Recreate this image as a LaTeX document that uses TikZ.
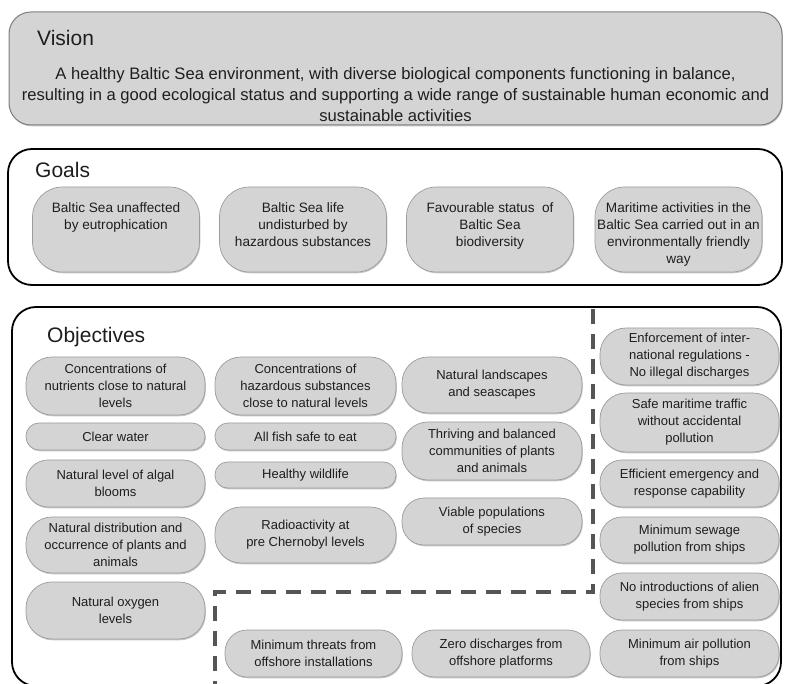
\documentclass[tikz,border=0pt]{standalone}
\usepackage{fontspec}
\setmainfont{Liberation Sans}
\usetikzlibrary{shadows}
\definecolor{boxgray}{HTML}{D4D4D4}
\definecolor{edgegray}{HTML}{9C9C9C}
\definecolor{txt}{HTML}{1E1E1E}
\definecolor{dashgray}{HTML}{555555}
\tikzset{
  pill/.style={draw=edgegray, line width=0.7pt, fill=boxgray, text=txt, align=center, inner sep=2pt,
    drop shadow={shadow xshift=0.8pt, shadow yshift=-1.3pt, fill=black, opacity=0.22}},
  objbox/.style={pill, font=\fontsize{13}{17}\selectfont},
  goalbox/.style={pill, inner sep=0pt, font=\fontsize{13.6}{17}\selectfont, minimum width=167pt, minimum height=85pt, rounded corners=30pt},
  title/.style={anchor=west, text=txt, font=\fontsize{21}{25}\selectfont, inner sep=0pt},
  frame/.style={draw=black, line width=1.8pt, fill=white, rounded corners=24pt},
  sep/.style={draw=dashgray, line width=3.6pt, dash pattern=on 15pt off 10pt},
}
\newcommand\goaltext[1]{\parbox[c][70pt][t]{166pt}{\centering\vspace*{8pt}#1}}
\begin{document}
\begin{tikzpicture}[x=1pt, y=-1pt]
\useasboundingbox (0,0) rectangle (785,684);
% Vision
\node[pill, minimum width=773pt, minimum height=113pt, rounded corners=22pt, draw=edgegray!80!black, line width=1pt] (visionbox) at (395.5,68.5) {};
\node[title] (visiontitle) at (37,38) {Vision};
\node[text=txt, align=center, font=\fontsize{16.6}{21}\selectfont] (visiontext) at (395.5,95)
 {A healthy Baltic Sea environment, with diverse biological components functioning in balance,\\
  resulting in a good ecological status and supporting a wide range of sustainable human economic and\\
  sustainable activities};
% Goals
\node[frame, minimum width=774pt, minimum height=136pt] (goalsframe) at (395,217) {};
\node[title] (goalstitle) at (35,170) {Goals};
\node[goalbox] (g1) at (116,229.5) {\goaltext{Baltic Sea unaffected\\ by eutrophication}};
\node[goalbox] (g2) at (303,229.5) {\goaltext{Baltic Sea life\\ undisturbed by\\ hazardous substances}};
\node[goalbox] (g3) at (490,229.5) {\goaltext{Favourable status\ \ of\\ Baltic Sea\\ biodiversity}};
\node[goalbox] (g4) at (678.5,229.5) {\goaltext{Maritime activities in the\\ Baltic Sea carried out in an\\ environmentally friendly\\ way}};
% Objectives
\node[frame, minimum width=769pt, minimum height=379pt] (objframe) at (396.5,496.5) {};
\node[title] (objtitle) at (47,337) {Objectives};
% column 1
\node[objbox, minimum width=179pt, minimum height=58pt, rounded corners=26pt] (n1) at (115.5,386) {Concentrations of\\ nutrients close to natural\\ levels};
\node[objbox, minimum width=179pt, minimum height=27pt, rounded corners=13pt] (n2) at (115.5,436.5) {Clear water};
\node[objbox, minimum width=179pt, minimum height=47pt, rounded corners=22pt] (n3) at (115.5,483.5) {Natural level of algal\\ blooms};
\node[objbox, minimum width=179pt, minimum height=56pt, rounded corners=26pt] (n4) at (115.5,545) {Natural distribution and\\ occurrence of plants and\\ animals};
\node[objbox, minimum width=179pt, minimum height=57pt, rounded corners=26pt] (n5) at (115.5,610.5) {Natural oxygen\\ levels};
% column 2
\node[objbox, minimum width=181pt, minimum height=58pt, rounded corners=26pt] (h1) at (305.5,386) {Concentrations of\\ hazardous substances\\ close to natural levels};
\node[objbox, minimum width=181pt, minimum height=27pt, rounded corners=13pt] (h2) at (305.5,436.5) {All fish safe to eat};
\node[objbox, minimum width=181pt, minimum height=26pt, rounded corners=12.5pt] (h3) at (305.5,475) {Healthy wildlife};
\node[objbox, minimum width=181pt, minimum height=56pt, rounded corners=26pt] (h4) at (305.5,535) {Radioactivity at\\ pre Chernobyl levels};
% column 3
\node[objbox, minimum width=180pt, minimum height=56pt, rounded corners=26pt] (b1) at (492,385) {Natural landscapes\\ and seascapes};
\node[objbox, minimum width=180pt, minimum height=58pt, rounded corners=26pt] (b2) at (492,451) {Thriving and balanced\\ communities of plants\\ and animals};
\node[objbox, minimum width=180pt, minimum height=47pt, rounded corners=22pt] (b3) at (492,521.5) {Viable populations\\ of species};
% column 4
\node[objbox, minimum width=179pt, minimum height=57pt, rounded corners=26pt] (m1) at (689.5,356.5) {Enforcement of inter-\\ national regulations -\\ No illegal discharges};
\node[objbox, minimum width=179pt, minimum height=59pt, rounded corners=26pt] (m2) at (689.5,422.5) {Safe maritime traffic\\ without accidental\\ pollution};
\node[objbox, minimum width=179pt, minimum height=47pt, rounded corners=22pt] (m3) at (689.5,483.5) {Efficient emergency and\\ response capability};
\node[objbox, minimum width=179pt, minimum height=46pt, rounded corners=22pt] (m4) at (689.5,540) {Minimum sewage\\ pollution from ships};
\node[objbox, minimum width=179pt, minimum height=47pt, rounded corners=22pt] (m5) at (689.5,596.5) {No introductions of alien\\ species from ships};
\node[objbox, minimum width=179pt, minimum height=47pt, rounded corners=22pt] (m6) at (689.5,653.5) {Minimum air pollution\\ from ships};
% bottom
\node[objbox, minimum width=177pt, minimum height=47pt, rounded corners=22pt] (o1) at (313.5,653.5) {Minimum threats from\\ offshore installations};
\node[objbox, minimum width=178pt, minimum height=47pt, rounded corners=22pt] (o2) at (501,653.5) {Zero discharges from\\ offshore platforms};
% separators
\coordinate (sepTop) at (593,309);
\coordinate (sepCorner) at (593,592);
\coordinate (sepLeft) at (215,592);
\coordinate (sepBottom) at (215,690);
\draw[sep] (sepTop) -- (sepCorner) -- (sepLeft) -- (sepBottom);
\end{tikzpicture}
\end{document}
